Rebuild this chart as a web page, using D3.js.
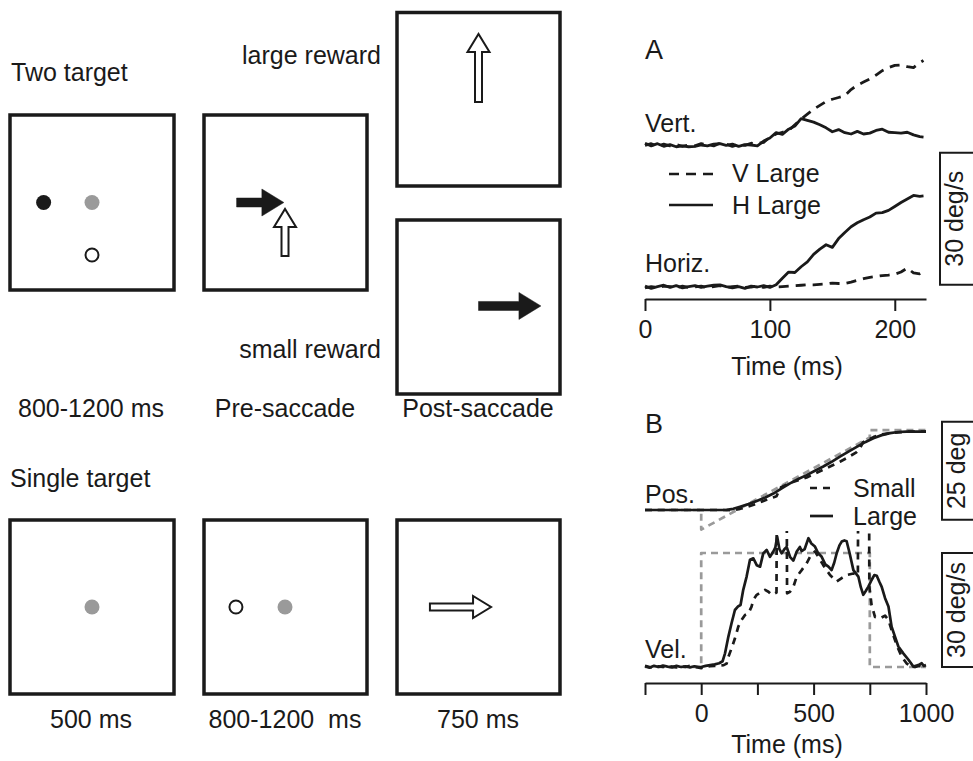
<!DOCTYPE html>
<html>
<head>
<meta charset="utf-8">
<script src="https://cdn.jsdelivr.net/npm/d3@7"></script>
<style>
  body { margin: 0; background: #fff; }
  svg { display: block; font-family: "Liberation Sans", Arial, Helvetica, sans-serif; }
</style>
</head>
<body>
<div id="chart"></div>
<script>
// ---- Panel A: eye velocity (deg/s), V Large (dashed) vs H Large (solid) trials
const aTime = [0, 5, 10, 15, 20, 25, 30, 35, 40, 45, 50, 55, 60, 65, 70, 75, 80, 85, 90, 95,
  100, 105, 110, 115, 120, 125, 130, 135, 140, 145, 150, 155, 160, 165, 170, 175, 180, 185, 190, 195,
  200, 205, 210, 215, 220, 223];
const vertVLarge = [-0.1, 0.3, -0.3, 0.2, -0.2, 0.1, -0.3, 0, -0.2, 0.3,
  0.1, -0.2, 0.4, 0.2, -0.3, 0.1, -0.1, 0.4, 0.3, 0.6,
  1.8, 2.5, 2.9, 3.3, 4.6, 5.9, 7.0, 8.1, 9.0, 9.9,
  10.4, 10.8, 11.2, 12.6, 13.6, 14.3, 15.0, 15.9, 16.9, 17.6,
  18.1, 18.2, 17.8, 17.6, 18.7, 19.2];
const vertHLarge = [0.4, -0.2, 0.3, -0.3, 0.1, -0.4, -0.2, -0.4, -0.3, 0,
  -0.2, 0.2, 0.3, -0.1, 0.2, -0.3, 0.1, 0, -0.2, 0.9,
  1.6, 2.8, 2.4, 3.6, 4.3, 6.0, 5.6, 5.2, 4.6, 3.9,
  3.0, 3.5, 2.8, 2.5, 3.1, 2.5, 2.7, 3.3, 3.6, 2.9,
  2.8, 2.7, 2.9, 2.3, 1.9, 1.8];
const horizVLarge = [-0.2, 0.1, -0.1, 0.2, 0.1, -0.2, 0.2, -0.1, 0, 0.2,
  -0.2, 0.1, 0.3, -0.1, 0.1, 0.2, -0.1, 0, 0.2, -0.1,
  0.2, 0, 0.1, 0.2, 0.3, 0.4, 0.5, 0.5, 0.6, 0.7,
  0.9, 0.8, 0.8, 1.1, 1.5, 1.9, 2.2, 2.4, 2.6, 2.7,
  2.9, 3.4, 4.3, 3.2, 3.0, 3.4];
const horizHLarge = [0.2, -0.3, 0.1, 0.4, -0.1, 0.3, -0.2, 0.1, 0.3, -0.1,
  0.2, 0.4, 0.5, 0.1, -0.2, 0.1, -0.3, 0.2, 0, 0.3,
  -0.1, 0.5, 2.0, 3.4, 3.3, 4.6, 5.7, 7.4, 8.6, 9.6,
  9.0, 11.0, 12.4, 13.7, 14.6, 15.3, 15.9, 16.8, 16.9, 17.4,
  18.3, 19.2, 20.0, 20.8, 20.6, 20.7];
const aTicks = [0, 100, 200];

// ---- Panel B: [time ms, value] pairs
const posLarge = [[-250, 0], [100, 0], [113, 0.05], [143, 0.3], [173, 0.85], [210, 1.5], [247, 2.3],
  [285, 3.2], [321, 4.2], [358, 5.5], [395, 6.8], [432, 7.9], [469, 8.9], [506, 10], [543, 11.1],
  [580, 12.3], [617, 13.6], [655, 14.9], [692, 16.1], [729, 17.3], [766, 18.3], [803, 19.1],
  [840, 19.6], [877, 19.9], [914, 20], [1000, 20]];
const posSmall = [[-250, 0], [100, 0], [143, -0.1], [173, 0.3], [210, 0.9], [247, 1.6], [285, 2.5],
  [320, 3.2], [335, 3.5], [345, 4.8], [355, 5.8], [395, 6.9], [432, 7.6], [469, 8.3], [506, 9.3],
  [543, 10.3], [580, 11.3], [617, 12.3], [655, 13.5], [690, 14.7], [705, 15.6], [720, 17.3],
  [766, 18.6], [803, 19.3], [840, 19.6], [914, 20], [1000, 20]];
const posTarget = [[-250, 0], [0, 0], [0, -5], [750, 18.5], [750, 20.4], [1000, 20.4]];

const velLarge = [[-250, 0.2], [-230, -0.2], [-210, 0.3], [-190, 0], [-170, 0.4], [-150, 0.1],
  [-130, -0.1], [-110, 0.3], [-90, 0], [-70, 0.2], [-50, -0.1], [-30, 0.2], [-10, 0], [0, 0],
  [20, 0.3], [40, 0.5], [60, 0.7], [80, 1], [95, 1.5], [106, 3.6], [121, 8], [135, 11.5], [150, 15],
  [165, 16], [175, 16.3], [187, 20.3], [202, 23.8], [217, 28.2], [232, 28.6], [247, 26.8], [262, 26.4],
  [276, 29.9], [291, 30.8], [306, 29], [321, 30.4], [330, 31.5], [338, 34.3], [348, 31], [358, 29.9],
  [370, 31], [380, 31.6], [395, 29], [410, 28], [425, 30.4], [439, 31.6], [447, 30.5], [460, 31],
  [477, 33.9], [490, 32.5], [506, 31.7], [520, 30], [536, 29], [552, 27], [566, 26.4], [580, 25.5],
  [592, 27.5], [603, 30], [615, 32], [625, 33], [637, 33.3], [647, 33.1], [660, 30], [677, 25.5],
  [699, 23.8], [710, 21], [721, 19], [732, 20], [743, 21.1], [758, 22.9], [770, 24.2], [781, 24],
  [792, 22.5], [803, 21.1], [818, 18.1], [833, 15.9], [847, 10.6], [862, 8], [877, 5.4], [899, 3.6],
  [922, 1.9], [944, 0.1], [955, 0.3], [966, 0.5], [981, 1], [990, 0.3], [1000, 0.5]];
const velSmall = [[-250, 0.3], [-230, 0], [-210, -0.2], [-190, 0.2], [-170, 0], [-150, 0.3],
  [-130, 0.1], [-110, -0.1], [-90, 0.2], [-70, 0], [-50, 0.3], [-30, 0], [-10, -0.2], [0, -0.3],
  [20, 0], [40, 0.2], [60, 0.3], [80, 0.4], [100, 0.5], [113, 0.9], [121, 2.7], [135, 4.9], [150, 7.5],
  [165, 10.6], [180, 12.4], [195, 13.7], [210, 14.1], [224, 15.9], [232, 17.7], [247, 19], [269, 19.8],
  [284, 20.3], [299, 19.8], [313, 19], [328, 19.4], [335, 19.6], [338, 80], [378, 80], [382, 19.4],
  [395, 19.8], [410, 21.1], [425, 23.8], [447, 25.5], [469, 27.3], [484, 29], [506, 30.4], [521, 29],
  [543, 26.8], [573, 24.2], [603, 22.5], [625, 23.4], [647, 24.2], [677, 24.6], [697, 24.2], [700, 80],
  [745, 80], [748, 21.1], [758, 16.3], [773, 13.2], [795, 12.8], [818, 13.5], [833, 12.4], [847, 9.7],
  [870, 5.7], [892, 2.7], [914, 0.9], [936, 0.1], [951, 0], [970, 0.3], [990, 0.1], [1000, 0.2]];
const velTarget = [[-250, 0], [0, 0], [0, 30], [750, 30], [750, 0], [1000, 0]];
const bTicks = [-250, 0, 250, 500, 750, 1000];
const bTickLabels = [0, 500, 1000];

// ---- Schematic (task design) text
const taskLabels = [
  { text: 'Two target', x: 11, y: 81, anchor: 'start' },
  { text: 'large reward', x: 381, y: 64, anchor: 'end' },
  { text: 'small reward', x: 381, y: 358, anchor: 'end' },
  { text: '800-1200 ms', x: 91, y: 417, anchor: 'middle' },
  { text: 'Pre-saccade', x: 285, y: 417, anchor: 'middle' },
  { text: 'Post-saccade', x: 478, y: 417, anchor: 'middle' },
  { text: 'Single target', x: 10, y: 487, anchor: 'start' },
  { text: '500 ms', x: 91, y: 728, anchor: 'middle' },
  { text: '800-1200  ms', x: 285, y: 728, anchor: 'middle' },
  { text: '750 ms', x: 478, y: 728, anchor: 'middle' },
];

const W = 973;
const H = 761;
const ink = '#1a1a1a';
const grey = '#9a9a9a';
const fs = 25;

const svg = d3.select('#chart')
  .append('svg')
  .attr('width', W)
  .attr('height', H);

svg.append('rect').attr('width', W).attr('height', H).attr('fill', '#fff');

// ---------- Schematic boxes ----------
const boxes = {
  t1: [10, 174, 115, 290],
  t2: [204, 367, 115, 290],
  tUp: [397, 560, 12.5, 186],
  tDn: [397, 560, 220, 394],
  s1: [10, 174, 520, 694],
  s2: [204, 367, 520, 694],
  s3: [397, 560, 520, 694],
};

const boxScale = (k) => {
  const [x0, x1, y0, y1] = boxes[k];
  return {
    x: d3.scaleLinear().domain([0, 1]).range([x0, x1]),
    y: d3.scaleLinear().domain([0, 1]).range([y0, y1]),
  };
};

const sch = svg.append('g').attr('class', 'schematic');

sch.selectAll('rect.box')
  .data(Object.keys(boxes))
  .enter()
  .append('rect')
  .attr('class', 'box')
  .attr('x', k => boxes[k][0])
  .attr('y', k => boxes[k][2])
  .attr('width', k => boxes[k][1] - boxes[k][0])
  .attr('height', k => boxes[k][3] - boxes[k][2])
  .attr('fill', 'none')
  .attr('stroke', ink)
  .attr('stroke-width', 3.5);

const dots = [
  { box: 't1', rx: 0.205, ry: 0.5, fill: ink, stroke: 'none' },
  { box: 't1', rx: 0.5, ry: 0.5, fill: grey, stroke: 'none' },
  { box: 't1', rx: 0.5, ry: 0.8, fill: '#fff', stroke: ink },
  { box: 's1', rx: 0.5, ry: 0.5, fill: grey, stroke: 'none' },
  { box: 's2', rx: 0.196, ry: 0.5, fill: '#fff', stroke: ink },
  { box: 's2', rx: 0.497, ry: 0.5, fill: grey, stroke: 'none' },
];

sch.selectAll('circle.dot')
  .data(dots)
  .enter()
  .append('circle')
  .attr('class', 'dot')
  .attr('cx', d => boxScale(d.box).x(d.rx))
  .attr('cy', d => boxScale(d.box).y(d.ry))
  .attr('r', d => (d.stroke === 'none' ? 7.5 : 6.5))
  .attr('fill', d => d.fill)
  .attr('stroke', d => d.stroke)
  .attr('stroke-width', 2);

// arrows: from (rx0, ry0) to tip (rx1, ry1), in box units
const arrows = [
  { box: 't2', from: [0.2, 0.5], to: [0.49, 0.5], solid: true },
  { box: 't2', from: [0.497, 0.806], to: [0.497, 0.537], solid: false },
  { box: 'tUp', from: [0.5, 0.516], to: [0.5, 0.124], solid: false },
  { box: 'tDn', from: [0.5, 0.494], to: [0.883, 0.494], solid: true },
  { box: 's3', from: [0.202, 0.5], to: [0.577, 0.5], solid: false },
];

const arrowPoints = (x0, y0, x1, y1, shaft, headL, headW) => {
  const dx = x1 - x0;
  const dy = y1 - y0;
  const len = Math.hypot(dx, dy);
  const ux = dx / len;
  const uy = dy / len;
  const px = -uy;
  const py = ux;
  const b = len - headL;
  const pt = (a, s) => [x0 + ux * a + px * s, y0 + uy * a + py * s];
  return [pt(0, -shaft / 2), pt(b, -shaft / 2), pt(b, -headW / 2), pt(len, 0),
    pt(b, headW / 2), pt(b, shaft / 2), pt(0, shaft / 2)];
};

sch.selectAll('path.arrow')
  .data(arrows)
  .enter()
  .append('path')
  .attr('class', 'arrow')
  .attr('d', (d) => {
    const s = boxScale(d.box);
    const pts = d.solid
      ? arrowPoints(s.x(d.from[0]), s.y(d.from[1]), s.x(d.to[0]), s.y(d.to[1]), 9, 22, 27)
      : arrowPoints(s.x(d.from[0]), s.y(d.from[1]), s.x(d.to[0]), s.y(d.to[1]), 7, 18, 22);
    return d3.line()(pts) + 'Z';
  })
  .attr('fill', d => (d.solid ? ink : '#fff'))
  .attr('stroke', ink)
  .attr('stroke-width', d => (d.solid ? 0.5 : 2))
  .attr('stroke-linejoin', 'miter');

sch.selectAll('text.lab')
  .data(taskLabels)
  .enter()
  .append('text')
  .attr('class', 'lab')
  .attr('x', d => d.x)
  .attr('y', d => d.y)
  .attr('text-anchor', d => d.anchor)
  .attr('font-size', fs)
  .attr('fill', ink)
  .style('white-space', 'pre')
  .text(d => d.text);

// ---------- Panel A ----------
const xA = d3.scaleLinear().domain([0, 225]).range([645, 926]);
const yAH = d3.scaleLinear().domain([0, 30]).range([287, 155]);
const yAV = d3.scaleLinear().domain([0, 30]).range([145, 13]);

const gA = svg.append('g').attr('class', 'panelA');

const lineAV = d3.line().x((d, i) => xA(aTime[i])).y(d => yAV(d));
const lineAH = d3.line().x((d, i) => xA(aTime[i])).y(d => yAH(d));

const aSeries = [
  { vals: vertVLarge, line: lineAV, dash: '10,7' },
  { vals: vertHLarge, line: lineAV, dash: null },
  { vals: horizVLarge, line: lineAH, dash: '10,7' },
  { vals: horizHLarge, line: lineAH, dash: null },
];

gA.selectAll('path.trace')
  .data(aSeries)
  .enter()
  .append('path')
  .attr('class', 'trace')
  .attr('d', d => d.line(d.vals))
  .attr('fill', 'none')
  .attr('stroke', ink)
  .attr('stroke-width', 2.8)
  .attr('stroke-linejoin', 'round')
  .attr('stroke-dasharray', d => d.dash);

const axisA = gA.append('g')
  .attr('transform', 'translate(0,299)')
  .call(d3.axisBottom(xA).tickValues(aTicks).tickSize(12).tickSizeOuter(0).tickPadding(9));

// ---------- Panel B ----------
const xB = d3.scaleLinear().domain([-250, 1000]).range([645, 926]);
const yPos = d3.scaleLinear().domain([0, 25]).range([510, 412]);
const yVel = d3.scaleLinear().domain([0, 30]).range([667, 553]);

const gB = svg.append('g').attr('class', 'panelB');

svg.append('defs').append('clipPath')
  .attr('id', 'velClip')
  .append('rect')
  .attr('x', 630)
  .attr('y', yVel(35.8))
  .attr('width', 310)
  .attr('height', 200);

const linePos = d3.line().x(d => xB(d[0])).y(d => yPos(d[1]));
const lineVel = d3.line().x(d => xB(d[0])).y(d => yVel(d[1]));

const bSeries = [
  { vals: posTarget, line: linePos, color: grey, dash: '7,5', clip: null },
  { vals: velTarget, line: lineVel, color: grey, dash: '7,5', clip: null },
  { vals: posSmall, line: linePos, color: ink, dash: '7,6', clip: null },
  { vals: posLarge, line: linePos, color: ink, dash: null, clip: null },
  { vals: velSmall, line: lineVel, color: ink, dash: '7,6', clip: 'url(#velClip)' },
  { vals: velLarge, line: lineVel, color: ink, dash: null, clip: 'url(#velClip)' },
];

gB.selectAll('path.trace')
  .data(bSeries)
  .enter()
  .append('path')
  .attr('class', 'trace')
  .attr('d', d => d.line(d.vals))
  .attr('fill', 'none')
  .attr('stroke', d => d.color)
  .attr('stroke-width', 2.7)
  .attr('stroke-linejoin', 'round')
  .attr('stroke-dasharray', d => d.dash)
  .attr('clip-path', d => d.clip);

const axisB = gB.append('g')
  .attr('transform', 'translate(0,683)')
  .call(d3.axisBottom(xB)
    .tickValues(bTicks)
    .tickSize(12)
    .tickSizeOuter(0)
    .tickPadding(9)
    .tickFormat(d => (bTickLabels.includes(d) ? d : '')));

[axisA, axisB].forEach((ax) => {
  ax.select('.domain').attr('stroke', ink).attr('stroke-width', 2.2);
  ax.selectAll('.tick line').attr('stroke', ink).attr('stroke-width', 2);
  ax.selectAll('.tick text')
    .attr('fill', ink)
    .attr('font-size', fs)
    .attr('font-family', '"Liberation Sans", Arial, sans-serif');
});

// ---------- Panel texts ----------
const panelText = [
  { text: 'A', x: 645, y: 59, size: 27, anchor: 'start' },
  { text: 'Vert.', x: 645, y: 132, size: fs, anchor: 'start' },
  { text: 'Horiz.', x: 645, y: 272, size: fs, anchor: 'start' },
  { text: 'V Large', x: 732, y: 182, size: fs, anchor: 'start' },
  { text: 'H Large', x: 732, y: 214, size: fs, anchor: 'start' },
  { text: 'Time (ms)', x: 787, y: 375, size: fs, anchor: 'middle' },
  { text: 'B', x: 645, y: 433, size: 27, anchor: 'start' },
  { text: 'Pos.', x: 645, y: 503, size: fs, anchor: 'start' },
  { text: 'Vel.', x: 645, y: 658, size: fs, anchor: 'start' },
  { text: 'Small', x: 853, y: 497, size: fs, anchor: 'start' },
  { text: 'Large', x: 853, y: 525, size: fs, anchor: 'start' },
  { text: 'Time (ms)', x: 787, y: 753, size: fs, anchor: 'middle' },
];

svg.append('g').selectAll('text')
  .data(panelText)
  .enter()
  .append('text')
  .attr('x', d => d.x)
  .attr('y', d => d.y)
  .attr('font-size', d => d.size)
  .attr('text-anchor', d => d.anchor)
  .attr('fill', ink)
  .text(d => d.text);

// legend swatches
const legend = [
  { x0: 669, x1: 713, y: 174, dash: '10,7' },
  { x0: 669, x1: 713, y: 205, dash: null },
  { x0: 810, x1: 833, y: 488, dash: '7,6' },
  { x0: 810, x1: 833, y: 516, dash: null },
];

svg.append('g').selectAll('line')
  .data(legend)
  .enter()
  .append('line')
  .attr('x1', d => d.x0)
  .attr('x2', d => d.x1)
  .attr('y1', d => d.y)
  .attr('y2', d => d.y)
  .attr('stroke', ink)
  .attr('stroke-width', 2.7)
  .attr('stroke-dasharray', d => d.dash);

// scale bars
const bars = [
  { x: 940, y0: yAH(0.5), y1: yAH(30.5), label: '30 deg/s' },
  { x: 942, y0: yPos(-2.5), y1: yPos(22.5), label: '25 deg' },
  { x: 942, y0: yVel(0), y1: yVel(30), label: '30 deg/s' },
];

const gBars = svg.append('g');

gBars.selectAll('path')
  .data(bars)
  .enter()
  .append('path')
  .attr('d', d => `M${W + 2},${d.y1}H${d.x}V${d.y0}H${W + 2}`)
  .attr('fill', 'none')
  .attr('stroke', ink)
  .attr('stroke-width', 2);

gBars.selectAll('text')
  .data(bars)
  .enter()
  .append('text')
  .attr('transform', d => `translate(${d.x + 23},${(d.y0 + d.y1) / 2}) rotate(-90)`)
  .attr('text-anchor', 'middle')
  .attr('font-size', fs)
  .attr('fill', ink)
  .text(d => d.label);
</script>
</body>
</html>
